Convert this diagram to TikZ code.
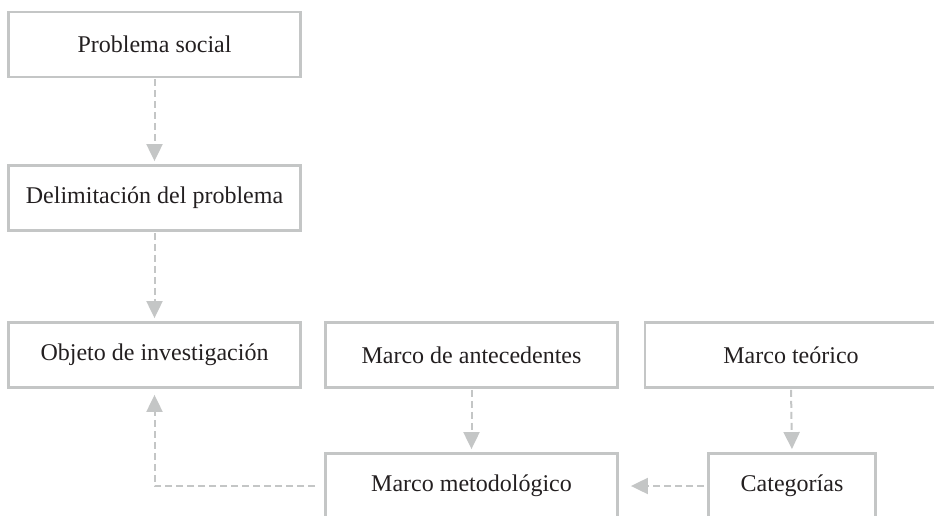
\documentclass[tikz,border=0pt]{standalone}
\usepackage{fontspec}
\setmainfont{Liberation Serif}
\usetikzlibrary{arrows.meta}
\definecolor{boxgray}{RGB}{196,198,198}
\definecolor{ink}{RGB}{35,31,32}
\tikzset{
    stagebox/.style={draw=boxgray, line width=2.8pt, minimum width=292pt, minimum height=65pt,
        text=ink, font=\fontsize{24}{28}\selectfont, inner sep=0pt},
    flowarrow/.style={draw=boxgray, line width=2pt, dash pattern=on 7pt off 4pt,
        -{Triangle[width=16pt, length=17pt]}}
}
\begin{document}
\begin{tikzpicture}[x=1pt, y=-1pt]
    \useasboundingbox (0,0) rectangle (934,516);
    \clip (0,0) rectangle (934,516);
    % left column
    \node[stagebox] (social) at (154.5,44.5) {Problema social};
    \node[stagebox] (delim) at (154.5,198) {Delimitación del problema};
    \node[stagebox] (objeto) at (154.5,355) {Objeto de investigación};
    % upper row
    \node[stagebox] (antec) at (471.5,355) {Marco de antecedentes};
    \node[stagebox] (teorico) at (791,355) {Marco teórico};
    % lower row
    \node[stagebox] (metodo) at (471.5,486) {Marco metodológico};
    \node[stagebox, minimum width=167pt] (categ) at (792,486) {Categorías};
    % connectors
    \draw[flowarrow, shorten <=1pt, shorten >=3pt] (social) -- (delim);
    \draw[flowarrow, shorten <=1pt, shorten >=3pt] (delim) -- (objeto);
    \draw[flowarrow, shorten <=1pt, shorten >=3pt] (antec.south) -- (metodo.north);
    \draw[flowarrow, shorten <=1pt, shorten >=3pt] (teorico.south) -- (categ.north);
    \draw[flowarrow, shorten <=3pt, shorten >=12pt] (categ.west) -- (metodo.east);
    \draw[flowarrow, shorten <=9pt, shorten >=6pt] (metodo.west) -| (objeto.south);
\end{tikzpicture}
\end{document}
